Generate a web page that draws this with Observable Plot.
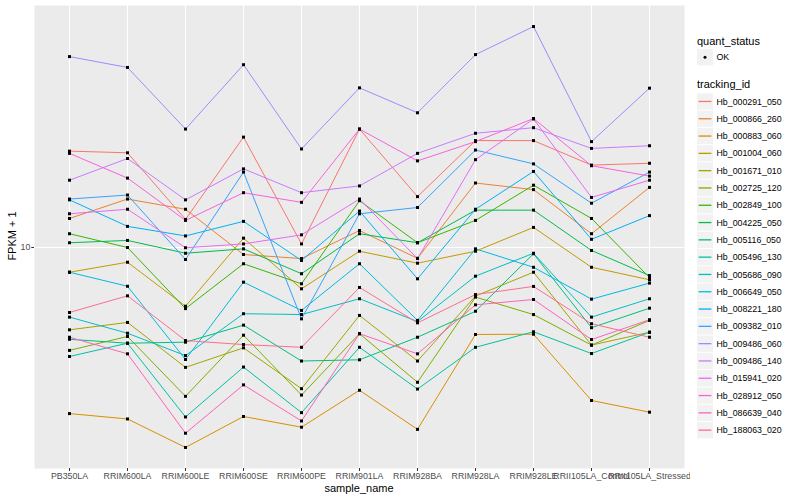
<!DOCTYPE html>
<html><head><meta charset="utf-8">
<script src="https://cdn.jsdelivr.net/npm/d3@7"></script>
<script src="https://cdn.jsdelivr.net/npm/@observablehq/plot@0.6"></script>
<style>
body{margin:0;background:#fff;font-family:"Liberation Sans",Arial,sans-serif;}
#wrap{position:relative;width:800px;height:500px;overflow:hidden;}
#chart{position:absolute;left:0;top:0;}
#legend{position:absolute;left:697px;top:0;}
.lab{position:absolute;font-size:11px;color:#000;white-space:nowrap;}
</style></head><body>
<div id="wrap">
  <div id="chart"></div>
  <div id="legend"></div>
  <div class="lab" style="left:359px;top:488px;transform:translate(-50%,-50%);">sample_name</div>
  <div class="lab" style="left:12px;top:236px;transform:translate(-50%,-50%) rotate(-90deg);">FPKM + 1</div>
</div>
<script>
const samples = ["PB350LA","RRIM600LA","RRIM600LE","RRIM600SE","RRIM600PE","RRIM901LA","RRIM928BA","RRIM928LA","RRIM928LE","RRII105LA_Control","RRII105LA_Stressed"];
const trackingIds = ["Hb_000291_050","Hb_000866_260","Hb_000883_060","Hb_001004_060","Hb_001671_010","Hb_002725_120","Hb_002849_100","Hb_004225_050","Hb_005116_050","Hb_005496_130","Hb_005686_090","Hb_006649_050","Hb_008221_180","Hb_009382_010","Hb_009486_060","Hb_009486_140","Hb_015941_020","Hb_028912_050","Hb_086639_040","Hb_188063_020"];
const colors = ["#F8766D","#EA8331","#D89000","#C09B00","#A3A500","#7CAE00","#39B600","#00BB4E","#00BF7D","#00C1A3","#00BFC4","#00BAE0","#00B0F6","#35A2FF","#9590FF","#C77CFF","#E76BF3","#FA62DB","#FF62BC","#FF6C91"];
const quantStatus = ["OK"];
const yTicks = [10];

// FPKM + 1 per sample (same order as samples)
const hb_000291_050 = [22.1, 21.8, 12.6, 24.8, 10.3, 26.5, 15.2, 24.1, 24.1, 19.7, 20.0];
const hb_000866_260 = [12.7, 14.9, 13.7, 9.44, 9.13, 11.5, 9.15, 17.0, 16.1, 11.2, 16.4];
const hb_000883_060 = [2.55, 2.44, 1.93, 2.49, 2.28, 3.09, 2.24, 4.89, 4.90, 2.84, 2.58];
const hb_001004_060 = [8.16, 8.86, 6.17, 10.8, 7.12, 9.70, 8.79, 9.70, 11.8, 8.50, 7.67];
const hb_001671_010 = [5.08, 5.40, 3.73, 4.38, 3.13, 5.72, 3.93, 6.71, 8.16, 4.48, 4.98];
const hb_002725_120 = [4.29, 4.81, 2.94, 4.86, 2.97, 4.92, 3.30, 6.65, 5.76, 4.48, 5.49];
const hb_002849_100 = [11.2, 10.0, 6.05, 8.75, 7.42, 14.7, 10.4, 12.5, 16.7, 12.7, 7.81];
const hb_004225_050 = [10.4, 10.6, 9.54, 9.89, 8.06, 11.2, 10.4, 13.6, 13.6, 9.76, 7.94];
const hb_005116_050 = [4.70, 4.55, 4.59, 5.28, 3.93, 3.97, 4.78, 5.92, 9.50, 5.17, 6.07];
const hb_005496_130 = [4.08, 4.55, 2.48, 3.74, 2.57, 4.40, 3.12, 4.40, 5.00, 4.18, 4.98];
const hb_005686_090 = [5.64, 4.94, 4.11, 5.80, 5.76, 6.56, 5.44, 7.90, 9.54, 5.64, 6.56];
const hb_006649_050 = [8.16, 7.27, 3.98, 7.52, 5.96, 8.75, 5.49, 9.89, 8.50, 6.54, 7.46];
const hb_008221_180 = [14.8, 11.9, 11.0, 12.4, 8.99, 13.5, 7.73, 13.7, 18.7, 10.7, 13.0];
const hb_009382_010 = [14.9, 15.4, 9.06, 18.6, 5.56, 13.2, 13.9, 22.3, 19.9, 14.4, 18.6];
const hb_009486_060 = [48.1, 44.0, 26.5, 45.0, 22.5, 37.2, 30.3, 48.9, 61.6, 23.9, 37.1];
const hb_009486_140 = [17.4, 20.8, 14.8, 19.1, 15.7, 16.6, 21.7, 25.6, 26.8, 22.6, 23.1];
const hb_015941_020 = [13.2, 13.7, 9.98, 10.3, 11.1, 14.9, 9.13, 20.6, 28.8, 15.1, 17.4];
const hb_028912_050 = [21.7, 17.7, 12.5, 15.7, 14.5, 26.5, 20.4, 23.9, 28.9, 19.6, 18.0];
const hb_086639_040 = [4.78, 4.17, 2.17, 3.23, 2.40, 4.92, 4.17, 6.24, 6.52, 4.69, 5.52];
const hb_188063_020 = [5.86, 6.72, 4.65, 4.50, 4.40, 7.20, 5.38, 6.79, 7.26, 5.34, 4.78];

const seriesValues = [hb_000291_050, hb_000866_260, hb_000883_060, hb_001004_060, hb_001671_010, hb_002725_120, hb_002849_100, hb_004225_050, hb_005116_050, hb_005496_130, hb_005686_090, hb_006649_050, hb_008221_180, hb_009382_010, hb_009486_060, hb_009486_140, hb_015941_020, hb_028912_050, hb_086639_040, hb_188063_020];

const data = [];
trackingIds.forEach((id, i) => {
  seriesValues[i].forEach((v, j) => data.push({id, sample: samples[j], fpkm: v, status: quantStatus[0]}));
});

// ggplot-like 5% expansion in log space
const [lo, hi] = d3.extent(data, d => Math.log10(d.fpkm));
const pad = (hi - lo) * 0.05;
const yDomain = [Math.pow(10, lo - pad), Math.pow(10, hi + pad)];

const font = "'Liberation Sans', Arial, sans-serif";
const chart = Plot.plot({
  width: 690, height: 500,
  marginLeft: 34, marginRight: 6, marginTop: 5, marginBottom: 32,
  style: {fontFamily: font, fontSize: "8.8px", background: "transparent"},
  x: {type: "point", domain: samples, padding: 0.6, label: null},
  y: {type: "log", domain: yDomain, label: null},
  color: {domain: trackingIds, range: colors},
  marks: [
    Plot.frame({fill: "#EBEBEB", stroke: null}),
    Plot.gridX({stroke: "white", strokeOpacity: 1, strokeWidth: 1.1}),
    Plot.gridY(yTicks, {stroke: "white", strokeOpacity: 1, strokeWidth: 1.1}),
    Plot.line(data, {x: "sample", y: "fpkm", z: "id", stroke: "id", strokeWidth: 1}),
    Plot.dot(data, {x: "sample", y: "fpkm", symbol: "square", r: 1.7, fill: "black", stroke: null}),
    Plot.axisX({tickSize: 3, tickPadding: 1.5, stroke: "#333333", fill: "#4D4D4D", label: null, fontSize: 8.8}),
    Plot.axisY({ticks: yTicks, tickFormat: d => String(d), tickSize: 2.7, tickPadding: 1.5, stroke: "#333333", fill: "#4D4D4D", label: null, fontSize: 8.8})
  ]
});
document.getElementById("chart").appendChild(chart);

// Legend (ggplot-like)
const lg = d3.select("#legend").append("svg").attr("width", 103).attr("height", 500)
  .style("font-family", font);
lg.append("text").attr("x", 0).attr("y", 45).attr("font-size", 11).text("quant_status");
lg.append("rect").attr("x", 0).attr("y", 49).attr("width", 16).attr("height", 16.3).attr("fill", "#F2F2F2");
lg.append("circle").attr("cx", 8).attr("cy", 57.2).attr("r", 1.5).attr("fill", "black");
lg.append("text").attr("x", 19.5).attr("y", 57.2).attr("dy", "0.35em").attr("font-size", 8.8).text(quantStatus[0]);
lg.append("text").attr("x", 0).attr("y", 88).attr("font-size", 11).text("tracking_id");
trackingIds.forEach((id, i) => {
  const y0 = 93.3 + i * 17.3;
  const g = lg.append("g").attr("transform", `translate(0,${y0})`);
  g.append("rect").attr("width", 16).attr("height", 16.3).attr("fill", "#F2F2F2");
  g.append("line").attr("x1", 1.6).attr("x2", 14.4).attr("y1", 8.15).attr("y2", 8.15)
    .attr("stroke", colors[i]).attr("stroke-width", 1.3);
  g.append("text").attr("x", 19.5).attr("y", 8.15).attr("dy", "0.35em").attr("font-size", 8.8).text(id);
});
</script>
</body></html>
